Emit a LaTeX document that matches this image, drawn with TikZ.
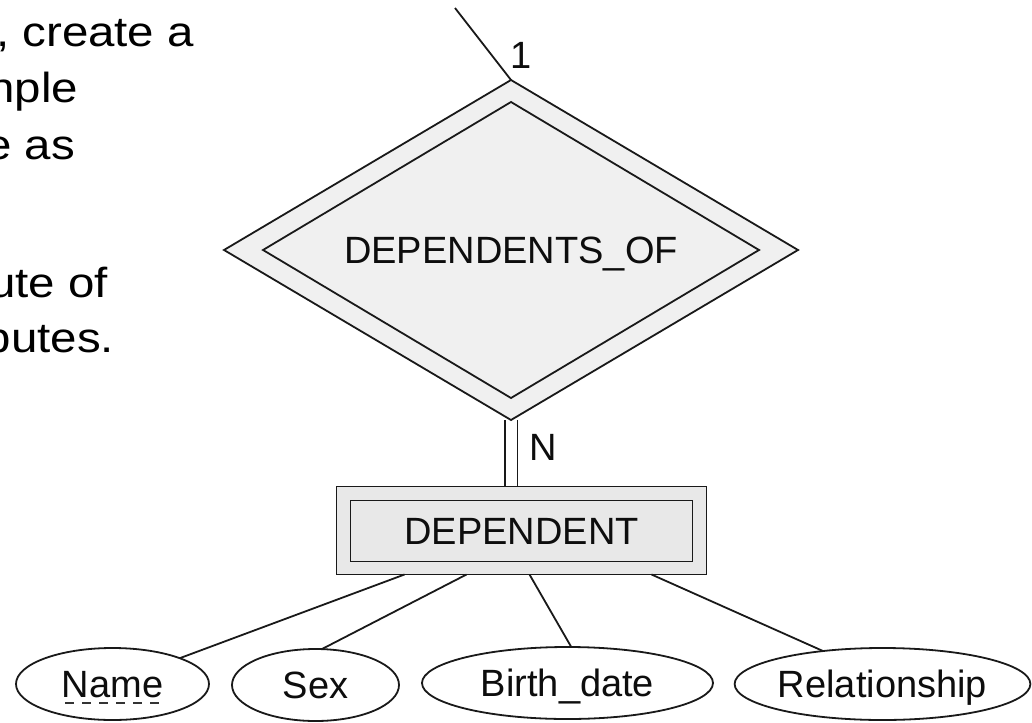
\documentclass[tikz,border=0pt]{standalone}
\usepackage{fontspec}
\setmainfont{Liberation Sans}
\usetikzlibrary{shapes.geometric,calc}
\pgfdeclarelayer{background}
\pgfsetlayers{background,main}
\newcommand\erfont{\fontsize{38}{46}\selectfont}
\newcommand\attrfont{\fontsize{38}{45}\selectfont}
\newcommand\prosefont{\fontsize{42}{50}\selectfont}
\newcommand\wide[1]{\scalebox{1.13}[1]{#1}}
\begin{document}
\begin{tikzpicture}[x=1pt,y=-1pt,
  every node/.style={inner sep=0pt, outer sep=0pt, text=black!95},
  link/.style={line width=1.8pt, draw=black!90},
  relouter/.style={diamond, aspect=1.69, draw=black!90, line width=1.8pt,
    fill=black!6, minimum width=574pt, minimum height=340pt},
  relinner/.style={diamond, aspect=1.68, draw=black!90, line width=1.8pt,
    minimum width=496pt, minimum height=296pt, font=\erfont,
    text height=27pt, text depth=0pt},
  entouter/.style={rectangle, draw=black!90, line width=1.8pt, fill=black!9,
    minimum width=370pt, minimum height=88pt},
  entinner/.style={rectangle, draw=black!90, line width=1.8pt,
    minimum width=342pt, minimum height=61pt, font=\erfont,
    text height=27pt, text depth=0pt},
  attr/.style={ellipse, draw=black!90, fill=white, line width=1.8pt,
    minimum height=72pt, font=\attrfont, text height=27pt, text depth=0pt},
  card/.style={font=\erfont, text height=27pt, text depth=0pt},
  prose/.style={anchor=base east, font=\prosefont, text=black}
]
\useasboundingbox (0,0) rectangle (1032,722);

% prose column on the left, cut at the page edge
\begin{scope}
  \clip (0,0) rectangle (215,400);
  \node[prose] (p1) at (194,47)  {\wide{, create a}};
  \node[prose] (p2) at (78,103)  {\wide{nple}};
  \node[prose] (p3) at (75,160)  {\wide{e as}};
  \node[prose] (p4) at (108,297) {\wide{ute of}};
  \node[prose] (p5) at (114,352) {\wide{butes.}};
\end{scope}

% identifying relationship
\node[relouter] (rel) at (511,250) {};
\node[relinner] (relin) at (511,250) {DEPENDENTS\_OF};

% weak entity
\node[entouter] (dep) at (521.5,530.5) {};
\node[entinner] (depin) at (521.5,531) {DEPENDENT};

% attributes
\node[attr, minimum width=193pt] (name) at (112.5,684) {Name};
\node[attr, minimum width=167pt] (sex)  at (315.5,685)   {Sex};
\node[attr, minimum width=291pt] (birth) at (567.5,683) {Birth\_date};
\node[attr, minimum width=291pt] (relship) at (882.5,684) {Relationship};

% partial key underline
\draw[line width=1.3pt, draw=black!80, dash pattern=on 9pt off 8pt]
  ($(name.center)+(-47.5,19)$) -- ($(name.center)+(46.5,19)$);

% cardinalities
\node[card] (one) at (521.5,55.5) {1};
\node[card] (many) at (543,447) {N};

% connectors
\coordinate (topend) at (455,8);
\coordinate (b1) at ([xshift=68pt]dep.south west);
\coordinate (b2) at ([xshift=130pt]dep.south west);
\coordinate (b3) at ([xshift=193pt]dep.south west);
\coordinate (b4) at ([xshift=315pt]dep.south west);
\begin{pgfonlayer}{background}
  \draw[link] (topend) -- (rel.north);
  \draw[line width=1.8pt, draw=black!90, double=white, double distance=11pt]
    (rel.south) -- (rel.south |- dep.north);
\end{pgfonlayer}
\draw[link] (b1) -- (name.21);
\draw[link] (b2) -- (sex.80);
\draw[link] (b3) -- (birth.84);
\draw[link] (b4) -- (relship.151);
\end{tikzpicture}
\end{document}
